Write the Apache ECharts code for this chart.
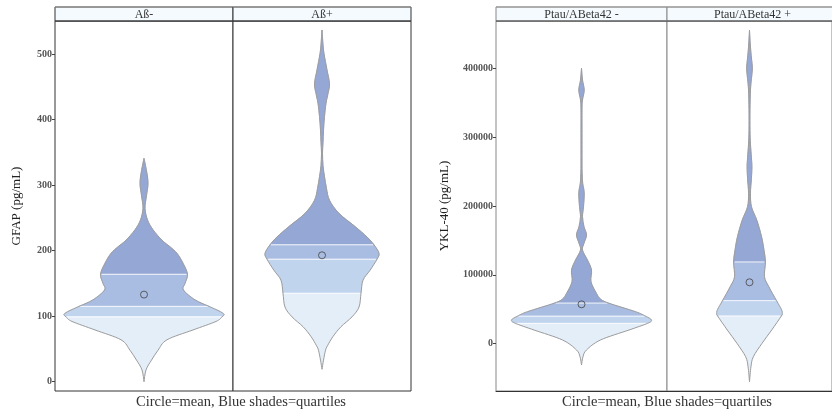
<!DOCTYPE html>
<html>
<head>
<meta charset="utf-8">
<title>GFAP / YKL-40 violins</title>
<style>
    html, body { margin: 0; padding: 0; background: #fff; }
    #main { width: 832px; height: 412px; }
</style>
<script src="https://cdn.jsdelivr.net/npm/echarts@6/dist/echarts.min.js"></script>
</head>
<body>
<div id="main"></div>
<script type="text/javascript">
    // facet titles and axis ticks
    var facetNames = ['Aß-', 'Aß+', 'Ptau/ABeta42 -', 'Ptau/ABeta42 +'];
    var gfapTicks = [0, 100, 200, 300, 400, 500];
    var yklTicks = [0, 100000, 200000, 300000, 400000];

    // violin outlines: value (top -> bottom) and half width
    var gfapNegVals  = [341, 322, 303, 284, 265, 247, 232, 216, 206, 196, 181, 164, 150, 140, 125, 115, 108, 103, 99, 92, 79, 64, 48, 33, 18, 0];
    var gfapNegWidth = [0, 2.5, 4, 2.5, 1, 3.5, 9, 18, 26, 33, 39, 43.5, 41, 39.5, 51, 65, 75, 80, 78, 72, 49, 23, 14, 7.5, 2, 0];
    var gfapNegQuart = [99, 115, 164];
    var gfapNegMean  = 133;

    var gfapPosVals  = [537, 515, 501, 476, 455, 440, 425, 405, 384, 365, 349, 330, 313, 295, 277, 257, 237, 221, 209, 196, 187, 170, 155, 135, 114, 99, 84, 69, 55, 48, 33, 19];
    var gfapPosWidth = [0, 1, 2, 5, 7.5, 6, 4, 2.5, 1.5, 1, 0.5, 1, 2.5, 4.5, 7.5, 17, 33, 45, 52, 57, 55, 48, 41, 39, 37, 30, 19, 11, 5.5, 3.5, 1.5, 0];
    var gfapPosQuart = [135, 187, 209];
    var gfapPosMean  = 193;

    var yklNegVals  = [400000, 383000, 368500, 354000, 340000, 300000, 260000, 245000, 233000, 219000, 199000, 184500, 170000, 158000, 146000, 136000, 121500, 107000, 90000, 73000, 65000, 59000, 46500, 40000, 34400, 29500, 19900, 5400, -9100, -18900, -31000];
    var yklNegWidth = [0, 1, 2.7, 1, 0.5, 0.5, 0.5, 0.7, 1.2, 2.7, 2, 1, 2.5, 5, 2.5, 1, 6, 10, 9.5, 15, 19, 27, 54, 64, 70, 66, 47.5, 19, 5, 1.5, 0];
    var yklNegQuart = [29500, 40000, 59000];
    var yklNegMean  = 57200;

    var yklPosVals  = [455000, 431000, 415000, 400000, 385000, 368500, 340000, 310000, 290000, 270000, 257000, 240000, 218500, 199000, 179700, 155400, 136000, 118700, 97300, 82800, 62500, 50000, 44200, 40200, 19900, 600, -18900, -33400, -55200];
    var yklPosWidth = [0, 1, 2, 3, 2, 1, 0.5, 0.5, 1, 2, 2.5, 2, 1, 2, 7.5, 12.5, 15, 16.5, 15.5, 20, 28, 33, 34, 33, 23, 13, 4, 1.5, 0];
    var yklPosQuart = [40200, 62500, 118700];
    var yklPosMean  = 89200;

    var shades = ['#95a7d4', '#a9bce2', '#c1d4ee', '#e4eef9'];
    var serif = 'Liberation Serif';

    function pt(p) { return p[0].toFixed(2) + ' ' + p[1].toFixed(2); }

    // smooth segment (catmull-rom as bezier) from p[i] to p[j], j = i +/- 1
    function seg(p, i, j) {
        var d = j - i, n = p.length - 1;
        var a = p[Math.min(n, Math.max(0, i - d))];
        var b = p[Math.min(n, Math.max(0, j + d))];
        var c1 = [p[i][0] + (p[j][0] - a[0]) / 6, p[i][1] + (p[j][1] - a[1]) / 6];
        var c2 = [p[j][0] - (b[0] - p[i][0]) / 6, p[j][1] - (b[1] - p[i][1]) / 6];
        return ' C' + pt(c1) + ' ' + pt(c2) + ' ' + pt(p[j]);
    }

    function shapePath(R, L, a, b) {
        var d = 'M' + pt(R[a]);
        for (var i = a; i < b; i++) d += seg(R, i, i + 1);
        d += ' L' + pt(L[b]);
        for (var k = b; k > a; k--) d += seg(L, k, k - 1);
        return d + ' Z';
    }

    function violin(vals, widths, quart) {
        return function (params, api) {
            var R = [], L = [];
            for (var i = 0; i < vals.length; i++) {
                R.push(api.coord([widths[i], vals[i]]));
                L.push(api.coord([-widths[i], vals[i]]));
            }
            var qs = quart.slice().sort(function (x, y) { return y - x; });
            var cuts = [0];
            qs.forEach(function (q) { cuts.push(vals.indexOf(q)); });
            cuts.push(vals.length - 1);
            var children = [];
            for (var k = 0; k < cuts.length - 1; k++) {
                children.push({
                    type: 'path',
                    shape: {pathData: shapePath(R, L, cuts[k], cuts[k + 1])},
                    style: {fill: shades[k], stroke: shades[k], lineWidth: 0.5}
                });
            }
            for (var m = 1; m < cuts.length - 1; m++) {
                var c = cuts[m];
                children.push({
                    type: 'line',
                    shape: {x1: L[c][0] + 1, y1: L[c][1], x2: R[c][0] - 1, y2: R[c][1]},
                    style: {stroke: '#ffffff', lineWidth: 1, opacity: 0.85}
                });
            }
            children.push({
                type: 'path',
                shape: {pathData: shapePath(R, L, 0, vals.length - 1)},
                style: {fill: 'none', stroke: '#9c9c9c', lineWidth: 1}
            });
            return {type: 'group', children: children};
        };
    }

    var violins = [
        [gfapNegVals, gfapNegWidth, gfapNegQuart, gfapNegMean],
        [gfapPosVals, gfapPosWidth, gfapPosQuart, gfapPosMean],
        [yklNegVals, yklNegWidth, yklNegQuart, yklNegMean],
        [yklPosVals, yklPosWidth, yklPosQuart, yklPosMean]
    ];

    // panel layout
    var facetLeft = [55, 233, 496, 667];
    var facetW = [178, 178, 171, 171];
    var borderCol = ['#333', '#333', '#888', '#888'];

    var grids = [], xAxes = [], yAxes = [], series = [], graphics = [];
    for (var f = 0; f < 4; f++) {
        var gfap = f < 2;
        grids.push({left: facetLeft[f], top: 21, width: facetW[f], height: 370,
            show: true, borderColor: borderCol[f], borderWidth: 1, backgroundColor: '#fff'});
        xAxes.push({gridIndex: f, type: 'value', min: -facetW[f] / 2, max: facetW[f] / 2,
            axisLine: {show: !gfap, onZero: false, lineStyle: {color: '#333'}},
            axisTick: {show: false}, axisLabel: {show: false}, splitLine: {show: false}});
        var first = (f === 0 || f === 2);
        var ticks = gfap ? gfapTicks : yklTicks;
        yAxes.push({
            gridIndex: f, type: 'value', position: 'left',
            min: gfap ? -14.2 : -68700, max: gfap ? 550.7 : 468700,
            show: first,
            name: f === 0 ? 'GFAP (pg/mL)' : (f === 2 ? 'YKL-40 (pg/mL)' : ''),
            nameLocation: 'middle', nameGap: f === 0 ? 32 : 45,
            nameTextStyle: {fontFamily: serif, fontSize: 13, color: '#222'},
            axisLine: {show: false, onZero: false},
            axisTick: {show: true, length: 3, customValues: ticks, lineStyle: {color: '#444'}},
            axisLabel: {customValues: ticks, margin: 3, fontFamily: serif, fontSize: 10,
                fontWeight: 'bold', color: '#555',
                formatter: function (val) { return String(val); }},
            splitLine: {show: false}
        });
        var v = violins[f];
        series.push({
            type: 'custom', xAxisIndex: f, yAxisIndex: f,
            renderItem: violin(v[0], v[1], v[2]),
            data: [[0, v[3]]], silent: true, z: 2
        });
        series.push({
            type: 'scatter', xAxisIndex: f, yAxisIndex: f,
            data: [[0, v[3]]], symbol: 'circle', symbolSize: 7, silent: true, z: 5,
            itemStyle: {color: 'rgba(0,0,0,0)', borderColor: '#444', borderWidth: 1}
        });
        // facet strip
        graphics.push({type: 'rect', shape: {x: facetLeft[f], y: 7, width: facetW[f], height: 14},
            style: {fill: '#f4fafd', stroke: borderCol[f], lineWidth: 1}});
        graphics.push({type: 'line', shape: {x1: facetLeft[f], y1: 21, x2: facetLeft[f] + facetW[f], y2: 21},
            style: {stroke: '#444', lineWidth: 1}});
        graphics.push({type: 'line', shape: {x1: facetLeft[f], y1: 7, x2: facetLeft[f] + facetW[f], y2: 7},
            style: {stroke: '#999', lineWidth: 1}});
        graphics.push({type: 'text', x: facetLeft[f] + facetW[f] / 2, y: 14.5,
            style: {text: facetNames[f], fontFamily: serif, fontSize: 12, fill: '#333',
                align: 'center', verticalAlign: 'middle'}});
    }

    var captions = [241, 667];
    captions.forEach(function (cx) {
        graphics.push({type: 'text', x: cx, y: 402,
            style: {text: 'Circle=mean, Blue shades=quartiles', fontFamily: serif, fontSize: 14.5,
                fill: '#333', align: 'center', verticalAlign: 'middle'}});
    });

    var myChart = echarts.init(document.getElementById('main'));
    myChart.setOption({
        backgroundColor: '#fff',
        animation: false,
        grid: grids,
        xAxis: xAxes,
        yAxis: yAxes,
        series: series,
        graphic: graphics
    });
</script>
</body>
</html>
